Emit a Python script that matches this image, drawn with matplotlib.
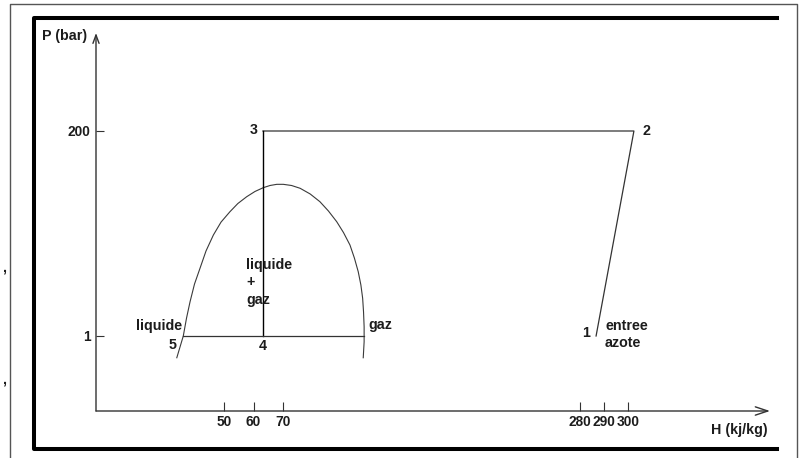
import numpy as np
import matplotlib
matplotlib.use("Agg")
import matplotlib.pyplot as plt
from matplotlib.lines import Line2D

# schematic P-H diagram (nitrogen cycle)
# points of the cycle: H (kJ/kg), P (bar)
cycle_names = ['1', '2', '3', '4', '5']
cycle_h = [286.7, 302.5, 63.2, 63.2, 36.2]
cycle_p = [1, 200, 200, 1, 1]
h_gaz = 97.4            # right end of the 1 bar line (saturated vapour)

# saturation dome
dome_h = [34.0, 36.2, 37.3, 38.5, 40.0, 41.9, 43.9, 46.4, 49.0, 52.0, 54.7,
          57.7, 60.5, 63.3, 65.6, 67.9, 70.1, 72.9, 75.8, 79.2, 82.5, 85.4,
          88.2, 90.5, 92.7, 94.2, 95.5, 96.4, 97.0, 97.3, 97.5, 97.5, 97.2]
dome_p = [0.57, 1.0, 1.59, 2.43, 3.83, 5.8, 9.0, 13.6, 19.0, 24.8, 30.7,
          36.6, 41.9, 46.2, 48.9, 50.4, 50.4, 48.9, 45.5, 39.3, 32.2, 25.3,
          19.2, 14.5, 10.5, 7.5, 5.27, 3.74, 2.65, 1.86, 1.27, 0.86, 0.57]

x_ticks = [50, 60, 70, 280, 290, 300]
y_ticks = [1, 200]
y_ticklabels = ['1', '200']

# the H axis is not to scale: piecewise linear breaks
h_knots = [0, 30, 100, 280, 300, 360]
h_pos = [96, 165, 371.5, 580, 628, 770]


def fwd(h):
    return np.interp(h, h_knots, h_pos)


def inv(x):
    return np.interp(x, h_pos, h_knots)


W, H = 802, 458
ink = '#1c1c1c'
line_c = '#333333'
font = dict(family='Liberation Sans', weight='bold', size=10.3, color=ink)

fig = plt.figure(figsize=(W / 100, H / 100), dpi=100)
fig.patch.set_facecolor('white')


def fx(x):
    return x / W


def fy(y):
    return 1 - y / H


# frames
def frame_line(xs, ys, lw, color):
    fig.add_artist(Line2D([fx(v) for v in xs], [fy(v) for v in ys],
                          transform=fig.transFigure, lw=lw, color=color,
                          solid_capstyle='projecting'))


frame_line([10, 10, 797, 797], [460, 3.5, 3.5, 460], 1.0, '#555555')
frame_line([777, 34, 34, 777], [18, 18, 449, 449], 2.9, 'black')
fig.text(fx(4), fy(268), ',', ha='center', va='center', **font)
fig.text(fx(4), fy(380), ',', ha='center', va='center', **font)

ax = fig.add_axes([fx(96), fy(411), fx(770) - fx(96), fy(33) - fy(411)])
ax.set_xscale('function', functions=(fwd, inv))
ax.set_yscale('log')
ax.set_xlim(0, 360)
ax.set_ylim(0.1439, 2518)
ax.set_facecolor('none')
for s in ax.spines.values():
    s.set_visible(False)

# axes with arrows
ax.annotate('', xy=(1, 0), xytext=(0, 0), xycoords='axes fraction',
            arrowprops=dict(arrowstyle='->, head_length=0.9, head_width=0.3',
                            lw=1.0, color=line_c, shrinkA=0, shrinkB=0))
ax.annotate('', xy=(0, 1), xytext=(0, 0), xycoords='axes fraction',
            arrowprops=dict(arrowstyle='->, head_length=0.6, head_width=0.22',
                            lw=1.0, color=line_c, shrinkA=0, shrinkB=0))

ax.set_xticks(x_ticks)
ax.set_xticklabels([str(v) for v in x_ticks])
ax.set_yticks(y_ticks)
ax.set_yticklabels(y_ticklabels)
ax.minorticks_off()
ax.tick_params(axis='x', direction='in', length=6.3, width=0.8, color=line_c, pad=3)
ax.tick_params(axis='y', direction='in', length=5.8, width=0.8, color=line_c, pad=4)
for lab in ax.get_xticklabels() + ax.get_yticklabels():
    lab.set_fontfamily(font['family'])
    lab.set_fontweight('bold')
    lab.set_fontsize(9.9)
    lab.set_color(ink)

ax.annotate('P (bar)', xy=(0, 1), xycoords='axes fraction', xytext=(-54, -3),
            textcoords='offset pixels', ha='left', va='center', **font)
ax.annotate('H (kj/kg)', xy=(1, 0), xycoords='axes fraction', xytext=(-2, -19),
            textcoords='offset pixels', ha='right', va='center', **font)

# saturation dome
ax.plot(dome_h, dome_p, color='#3a3a3a', lw=0.8, clip_on=False)

# cycle lines
ax.plot([cycle_h[2], cycle_h[1], cycle_h[0]], [cycle_p[2], cycle_p[1], cycle_p[0]],
        color=line_c, lw=0.9)
ax.plot([cycle_h[2], cycle_h[3]], [cycle_p[2], cycle_p[3]], color='black', lw=1.0)
ax.plot([cycle_h[4], h_gaz], [cycle_p[4], cycle_p[4]], color=line_c, lw=0.9)

# point labels
offsets = {'1': (-10, 3), '2': (13, 0), '3': (-9, 1), '4': (0, -10), '5': (-11, -9)}
for name, h, p in zip(cycle_names, cycle_h, cycle_p):
    dx, dy = offsets[name]
    ax.annotate(name, xy=(h, p), xytext=(dx, dy), textcoords='offset pixels',
                ha='center', va='center', **font)

ax.annotate('entree\nazote', xy=(cycle_h[0], cycle_p[0]), xytext=(9, 17),
            textcoords='offset pixels', ha='left', va='top', linespacing=1.3, **font)
ax.annotate('liquide', xy=(cycle_h[4], cycle_p[4]), xytext=(-1, 10),
            textcoords='offset pixels', ha='right', va='center', **font)
ax.annotate('gaz', xy=(h_gaz, cycle_p[4]), xytext=(5, 11),
            textcoords='offset pixels', ha='left', va='center', **font)
ax.annotate('liquide\n+\ngaz', xy=(cycle_h[3], cycle_p[3]), xytext=(-17, 78),
            textcoords='offset pixels', ha='left', va='top', linespacing=1.3, **font)

fig.savefig('out.png', dpi=100)
